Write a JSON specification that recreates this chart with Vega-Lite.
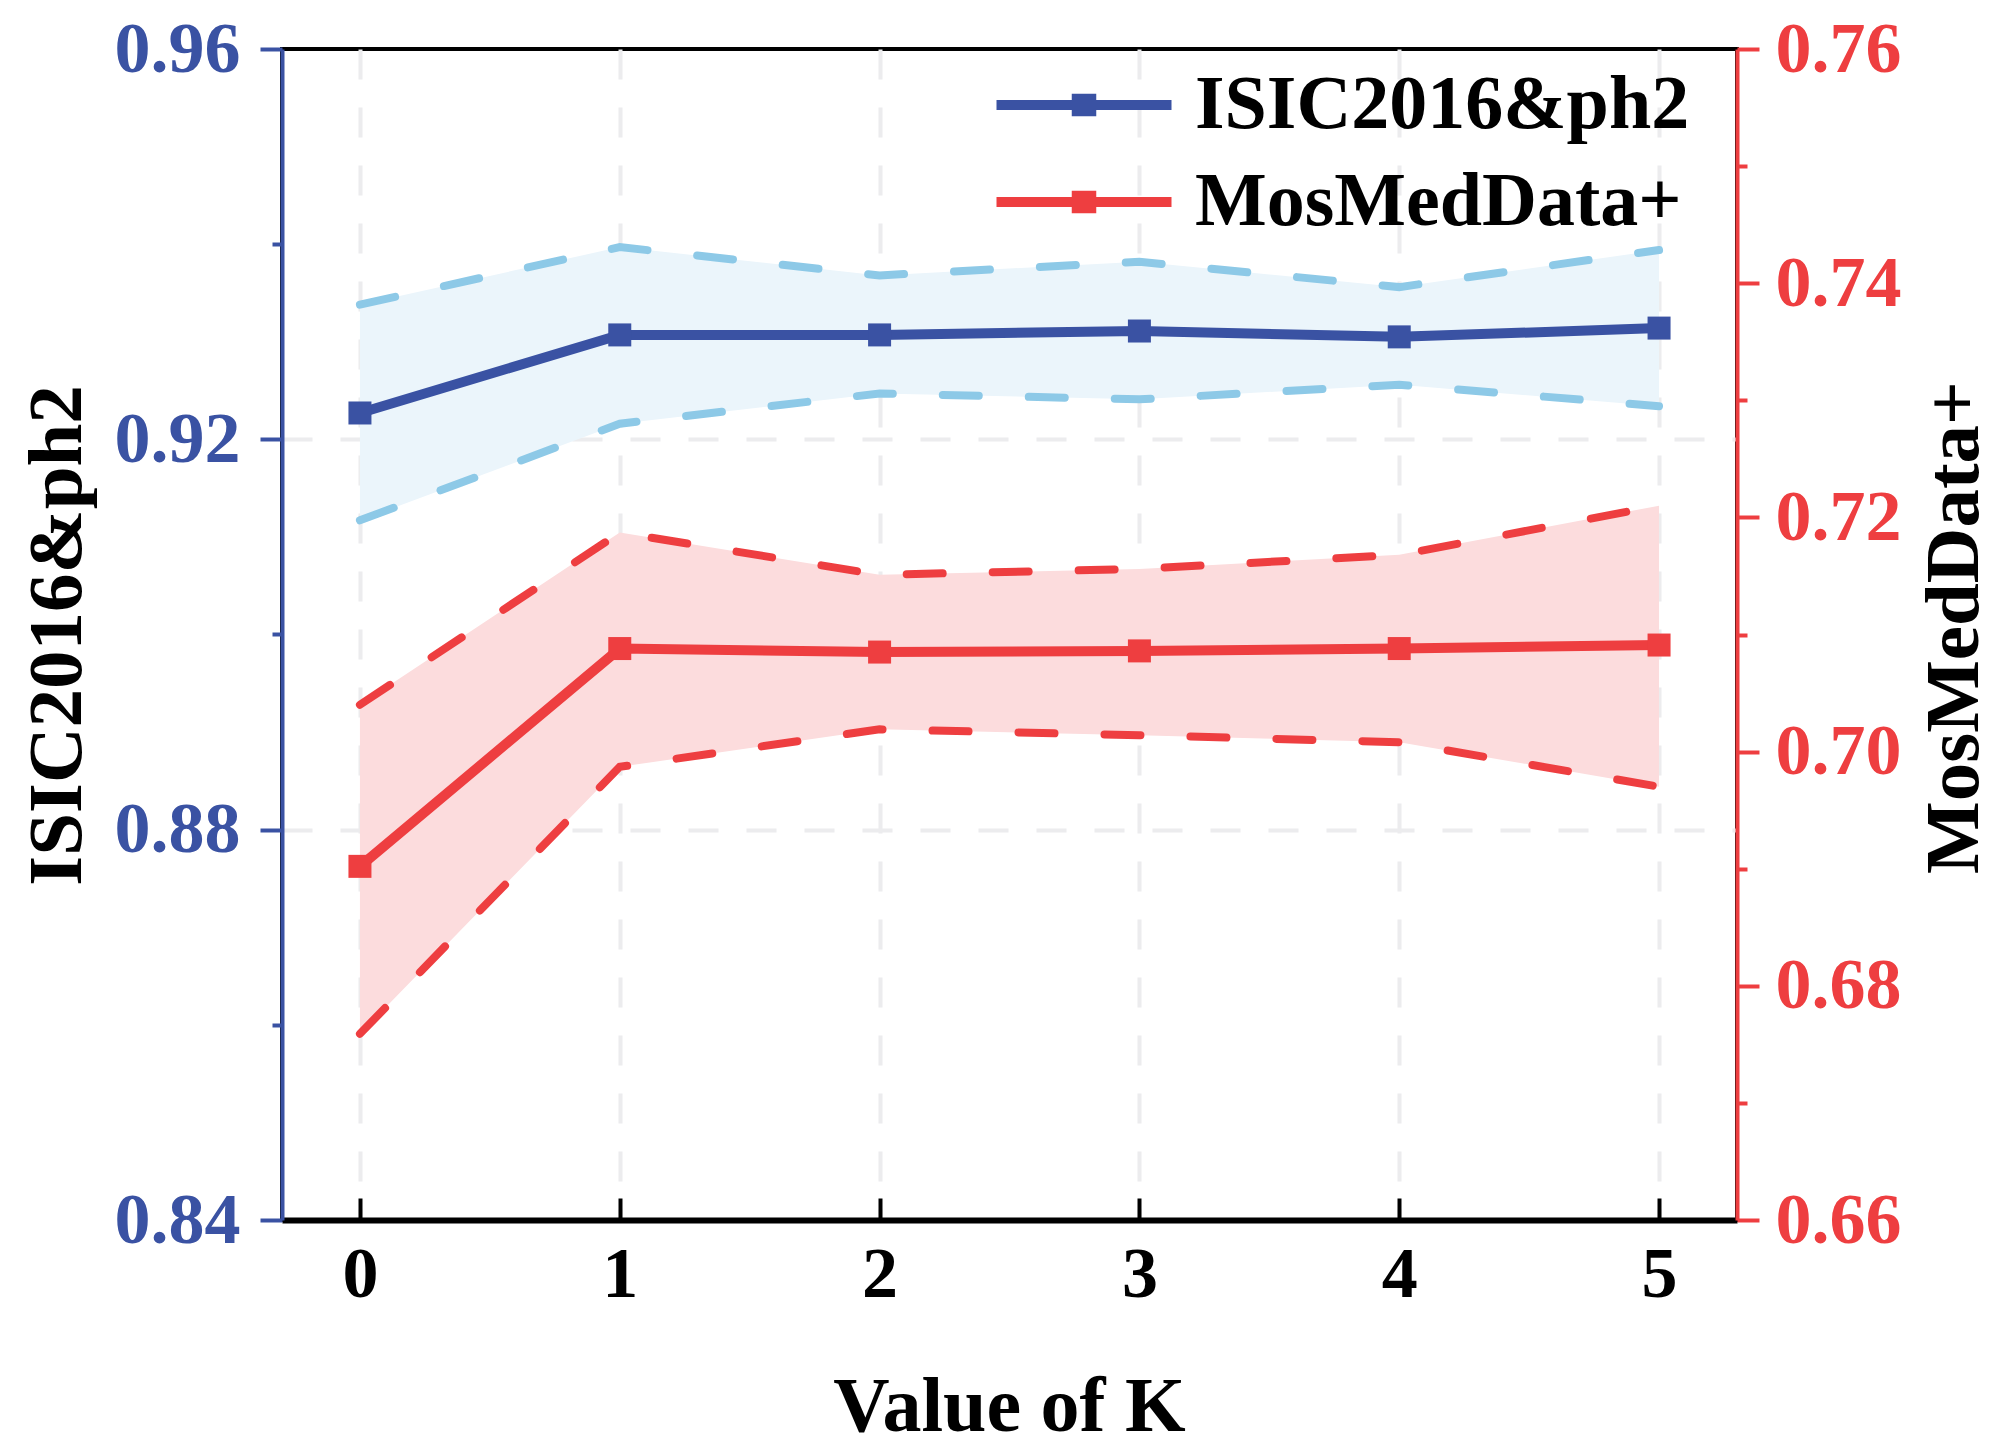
{
  "$schema": "https://vega.github.io/schema/vega-lite/v6.json",
  "width": 1455,
  "height": 1171,
  "autosize": {"type": "none"},
  "padding": {"left": 282, "top": 49, "right": 263, "bottom": 232},
  "background": "white",
  "data": {
    "values": [
      {"k": 0, "series": "ISIC2016&ph2", "mean": 0.9227, "lo": 0.9117, "hi": 0.9338},
      {"k": 1, "series": "ISIC2016&ph2", "mean": 0.9307, "lo": 0.9216, "hi": 0.9397},
      {"k": 2, "series": "ISIC2016&ph2", "mean": 0.9307, "lo": 0.9247, "hi": 0.9368},
      {"k": 3, "series": "ISIC2016&ph2", "mean": 0.9311, "lo": 0.9241, "hi": 0.9382},
      {"k": 4, "series": "ISIC2016&ph2", "mean": 0.9305, "lo": 0.9256, "hi": 0.9356},
      {"k": 5, "series": "ISIC2016&ph2", "mean": 0.9314, "lo": 0.9234, "hi": 0.9394},
      {"k": 0, "series": "MosMedData+", "mean": 0.6902, "lo": 0.6759, "hi": 0.7040},
      {"k": 1, "series": "MosMedData+", "mean": 0.7088, "lo": 0.6987, "hi": 0.7187},
      {"k": 2, "series": "MosMedData+", "mean": 0.7085, "lo": 0.7019, "hi": 0.7151},
      {"k": 3, "series": "MosMedData+", "mean": 0.7086, "lo": 0.7014, "hi": 0.7156},
      {"k": 4, "series": "MosMedData+", "mean": 0.7088, "lo": 0.7008, "hi": 0.7168},
      {"k": 5, "series": "MosMedData+", "mean": 0.7091, "lo": 0.6970, "hi": 0.7210}
    ]
  },
  "encoding": {
    "x": {
      "field": "k",
      "type": "quantitative",
      "scale": {"domain": [-0.3, 5.3], "nice": false, "zero": false},
      "axis": {
        "values": [0, 1, 2, 3, 4, 5],
        "format": "d",
        "domainColor": "black",
        "domainWidth": 6,
        "tickColor": "black",
        "tickWidth": 4,
        "tickSize": -22,
        "labelPadding": 98,
        "labelBaseline": "alphabetic",
        "labelColor": "black",
        "grid": true,
        "gridColor": "#ECECEE",
        "gridWidth": 4,
        "gridDash": [30, 28],
        "title": "Value of  K",
        "titleX": 727,
        "titleY": 210,
        "titleBaseline": "alphabetic",
        "titleFontSize": 78
      }
    }
  },
  "layer": [
    {
      "transform": [{"filter": "datum.series === 'ISIC2016&ph2'"}],
      "encoding": {
        "y": {
          "field": "mean",
          "type": "quantitative",
          "scale": {"domain": [0.84, 0.96], "nice": false, "zero": false},
          "axis": {
            "orient": "left",
            "values": [0.84, 0.86, 0.88, 0.9, 0.92, 0.94, 0.96],
            "labelExpr": "round(datum.value * 100) % 4 == 0 ? format(datum.value, '.2f') : ''",
            "domainColor": "#3A52A3",
            "domainWidth": 4,
            "tickColor": "#3A52A3",
            "tickWidth": 4,
            "tickSize": {"condition": {"test": "round(datum.value * 100) % 4 == 0", "value": 22}, "value": 10},
            "labelPadding": 20,
            "labelColor": "#3A52A3",
            "labelBaseline": "middle",
            "grid": true,
            "gridColor": "#ECECEE",
            "gridWidth": 4,
            "gridDash": [30, 28],
            "gridOpacity": {"condition": {"test": "abs(datum.value - 0.92) < 0.001 || abs(datum.value - 0.88) < 0.001", "value": 1}, "value": 0},
            "title": "ISIC2016&ph2",
            "titleX": -202,
            "titleY": 586,
            "titleAngle": -90,
            "titleAlign": "center",
            "titleBaseline": "alphabetic",
            "titleFontSize": 77
          }
        }
      },
      "layer": [
        {"mark": {"type": "area", "color": "#EBF5FB", "opacity": 1}, "encoding": {"y": {"field": "lo"}, "y2": {"field": "hi"}}},
        {"mark": {"type": "line", "color": "#8DC9E7", "strokeWidth": 8, "strokeDash": [36, 50], "strokeCap": "round"}, "encoding": {"y": {"field": "lo"}}},
        {"mark": {"type": "line", "color": "#8DC9E7", "strokeWidth": 8, "strokeDash": [36, 50], "strokeCap": "round"}, "encoding": {"y": {"field": "hi"}}},
        {
          "mark": {"type": "line", "strokeWidth": 10},
          "encoding": {
            "color": {
              "field": "series",
              "type": "nominal",
              "scale": {"domain": ["ISIC2016&ph2", "MosMedData+"], "range": ["#3A52A3", "#EE3E40"]},
              "legend": {"title": null}
            }
          }
        },
        {"mark": {"type": "point", "shape": "square", "size": 529, "filled": true, "opacity": 1, "color": "#3A52A3"}, "encoding": {}}
      ]
    },
    {
      "transform": [{"filter": "datum.series === 'MosMedData+'"}],
      "encoding": {
        "y": {
          "field": "mean",
          "type": "quantitative",
          "scale": {"domain": [0.66, 0.76], "nice": false, "zero": false},
          "axis": {
            "orient": "right",
            "values": [0.66, 0.67, 0.68, 0.69, 0.7, 0.71, 0.72, 0.73, 0.74, 0.75, 0.76],
            "labelExpr": "round(datum.value * 100) % 2 == 0 ? format(datum.value, '.2f') : ''",
            "domainColor": "#EE3E40",
            "domainWidth": 4,
            "tickColor": "#EE3E40",
            "tickWidth": 4,
            "tickSize": {"condition": {"test": "round(datum.value * 100) % 2 == 0", "value": 22}, "value": 10},
            "labelPadding": 16,
            "labelColor": "#EE3E40",
            "labelBaseline": "middle",
            "grid": false,
            "title": "MosMedData+",
            "titleX": 240,
            "titleY": 578,
            "titleAngle": -90,
            "titleAlign": "center",
            "titleBaseline": "alphabetic",
            "titleFontSize": 77
          }
        }
      },
      "layer": [
        {"mark": {"type": "area", "color": "#FCDCDD", "opacity": 1}, "encoding": {"y": {"field": "lo"}, "y2": {"field": "hi"}}},
        {"mark": {"type": "line", "color": "#EE3E40", "strokeWidth": 8, "strokeDash": [36, 50], "strokeCap": "round"}, "encoding": {"y": {"field": "lo"}}},
        {"mark": {"type": "line", "color": "#EE3E40", "strokeWidth": 8, "strokeDash": [36, 50], "strokeCap": "round"}, "encoding": {"y": {"field": "hi"}}},
        {
          "mark": {"type": "line", "strokeWidth": 10},
          "encoding": {
            "color": {
              "field": "series",
              "type": "nominal",
              "scale": {"domain": ["ISIC2016&ph2", "MosMedData+"], "range": ["#3A52A3", "#EE3E40"]},
              "legend": {"title": null}
            }
          }
        },
        {"mark": {"type": "point", "shape": "square", "size": 529, "filled": true, "opacity": 1, "color": "#EE3E40"}, "encoding": {}}
      ]
    }
  ],
  "resolve": {"scale": {"y": "independent"}},
  "config": {
    "font": "Liberation Serif",
    "view": {"stroke": "black", "strokeWidth": 4},
    "axis": {
      "labelFont": "Liberation Serif",
      "labelFontWeight": "bold",
      "labelFontSize": 72,
      "titleFont": "Liberation Serif",
      "titleFontWeight": "bold",
      "titleColor": "black",
      "labelOverlap": false,
      "labelFlush": false
    },
    "legend": {
      "orient": "none",
      "legendX": 764,
      "legendY": 18,
      "padding": 0,
      "labelFont": "Liberation Serif",
      "labelFontWeight": "bold",
      "labelFontSize": 76,
      "labelColor": "black",
      "labelLimit": 0,
      "symbolSize": 1225,
      "symbolType": "M-5,0H5M-0.7,-0.36H0.7M-0.7,0.36H0.7",
      "symbolStrokeWidth": 10,
      "labelOffset": 73,
      "rowPadding": 21
    }
  }
}
